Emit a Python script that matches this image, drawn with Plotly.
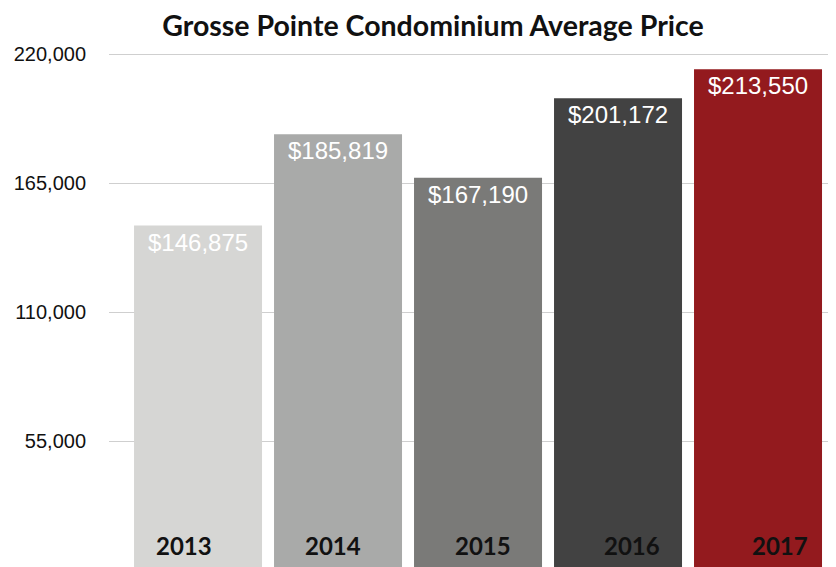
import plotly.graph_objects as go

years = ["2013", "2014", "2015", "2016", "2017"]
prices = [146875, 185819, 167190, 201172, 213550]
colors = ["#d6d6d4", "#a9aaa9", "#7a7a78", "#424242", "#931a1e"]
tick_vals = [55000, 110000, 165000, 220000]
tick_text = ["55,000", "110,000", "165,000", "220,000"]
year_shift = [-14, -5, 5, 14, 22]

# page has an 8px body margin; figure sized/offset to compensate
W, H = 828, 559

fig = go.Figure()
fig.add_trace(go.Bar(
    x=years, y=prices,
    marker=dict(color=colors, line=dict(width=0)),
    texttemplate="$%{y:,}",
    textposition="inside",
    insidetextanchor="end",
    textangle=0,
    insidetextfont=dict(family="Liberation Sans, Arial, sans-serif", size=24, color="white"),
    hoverinfo="skip",
))

for i, (yr, dx) in enumerate(zip(years, year_shift)):
    fig.add_annotation(
        x=i, y=22 / 537, xref="x", yref="paper",
        text="<b>" + yr + "</b>", showarrow=False,
        xshift=dx, yanchor="middle", xanchor="center",
        font=dict(family="Lato, sans-serif", size=24, color="#111111"),
    )

fig.update_layout(
    width=W, height=H,
    margin=dict(l=101, r=0, t=22, b=0),
    paper_bgcolor="white", plot_bgcolor="white",
    bargap=0.0857,
    showlegend=False,
    title=dict(
        text="<b>Grosse Pointe Condominium Average Price</b>",
        x=425 / W, xanchor="center", xref="container",
        y=1 - 18 / H, yanchor="middle", yref="container",
        font=dict(family="Lato, sans-serif", size=28.5, color="#111111"),
    ),
    xaxis=dict(
        type="category", range=[-0.636, 4.557],
        showticklabels=False, showgrid=False, zeroline=False, showline=False,
    ),
    yaxis=dict(
        range=[1279, 230233],
        tickvals=tick_vals, ticktext=tick_text,
        showgrid=True, gridcolor="#cfcfcf", gridwidth=1,
        zeroline=False, showline=False, ticks="",
        ticklabelstandoff=22,
        tickfont=dict(family="Liberation Sans, Arial, sans-serif", size=20, color="#111111"),
    ),
)

fig.write_html("out.html")
